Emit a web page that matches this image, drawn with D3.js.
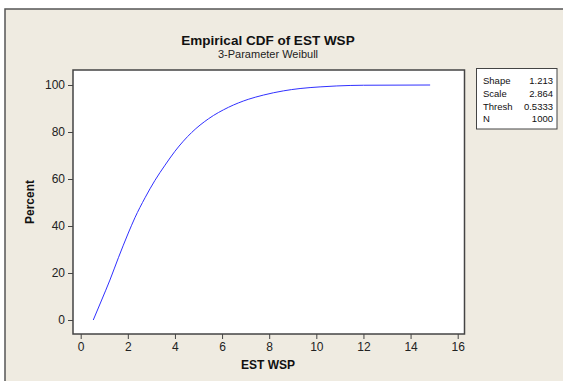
<!DOCTYPE html>
<html><head><meta charset="utf-8">
<script src="https://cdn.jsdelivr.net/npm/d3@7"></script>
<style>body{margin:0;background:#fff}svg{display:block}</style>
</head><body>
<script>
const xs = [0.5333,0.89,1.24,1.60,2.02,2.30,2.73,3.15,3.58,4.00,4.71,5.42,6.27,7.11,7.75,8.6,9.31,10.16,10.87,12.0,14.83];
const pcts = [0,8.5,17,26.5,37,43.5,52,59.4,65.9,71.8,79.8,85.6,90.5,93.9,95.7,97.5,98.5,99.2,99.6,99.9,100];
const xTicks = [0,2,4,6,8,10,12,14,16];
const yTicks = [0,20,40,60,80,100];
const statLabels = ["Shape","Scale","Thresh","N"];
const statValues = ["1.213","2.864","0.5333","1000"];

const W=563,H=381;
const svg=d3.select("body").append("svg").attr("width",W).attr("height",H);
const font="'Liberation Sans', Arial, sans-serif";
svg.append("rect").attr("x",5).attr("y",9).attr("width",W).attr("height",H).attr("fill","#EFEBE1");
svg.append("path").attr("d",`M5,${H}V9H${W}`).attr("fill","none").attr("stroke","#555").attr("stroke-width",1.5);

const L=73,T=70,R=464.5,B=334;
svg.append("rect").attr("x",L).attr("y",T).attr("width",R-L).attr("height",B-T).attr("fill","#fff");

const x=d3.scaleLinear().domain([0,16]).range([80.7,457.7]);
const y=d3.scaleLinear().domain([0,100]).range([320,85]);

const xa=svg.append("g").attr("transform",`translate(0,${B})`)
  .call(d3.axisBottom(x).tickValues(xTicks).tickSize(5).tickPadding(3).tickFormat(d3.format("d")));
const ya=svg.append("g").attr("transform",`translate(${L},0)`)
  .call(d3.axisLeft(y).tickValues(yTicks).tickSize(5).tickPadding(3).tickFormat(d3.format("d")));
[xa,ya].forEach(a=>{
  a.select(".domain").remove();
  a.selectAll("line").attr("stroke","#444");
  a.selectAll("text").attr("fill","#222").style("font-family",font).style("font-size","12px");
});
svg.append("rect").attr("x",L).attr("y",T).attr("width",R-L).attr("height",B-T).attr("fill","none").attr("stroke","#444").attr("stroke-width",1.5);

const line=d3.line().x((d,i)=>x(xs[i])).y(d=>y(d)).curve(d3.curveMonotoneX);
svg.append("path").datum(pcts).attr("d",line).attr("fill","none").attr("stroke","#3030ff").attr("stroke-width",1);

svg.append("text").attr("x",268).attr("y",45).attr("text-anchor","middle").style("font-family",font).style("font-weight","bold").style("font-size","13.5px").attr("fill","#111").text("Empirical CDF of EST WSP");
svg.append("text").attr("x",268).attr("y",58).attr("text-anchor","middle").style("font-family",font).style("font-size","11px").attr("fill","#222").text("3-Parameter Weibull");
svg.append("text").attr("x",268).attr("y",369).attr("text-anchor","middle").style("font-family",font).style("font-weight","bold").style("font-size","12px").attr("fill","#111").text("EST WSP");
svg.append("text").attr("transform","translate(34,202) rotate(-90)").attr("text-anchor","middle").style("font-family",font).style("font-weight","bold").style("font-size","12px").attr("fill","#111").text("Percent");

const lg=svg.append("g");
lg.append("rect").attr("x",476.5).attr("y",68.5).attr("width",80.5).attr("height",60.5).attr("fill","#fff").attr("stroke","#444").attr("stroke-width",1);
statLabels.forEach((s,i)=>{
  lg.append("text").attr("x",483).attr("y",84+i*12.8).style("font-family",font).style("font-size","9.5px").attr("fill","#111").text(s);
  lg.append("text").attr("x",553).attr("y",84+i*12.8).attr("text-anchor","end").style("font-family",font).style("font-size","9.5px").attr("fill","#111").text(statValues[i]);
});
</script>
</body></html>
